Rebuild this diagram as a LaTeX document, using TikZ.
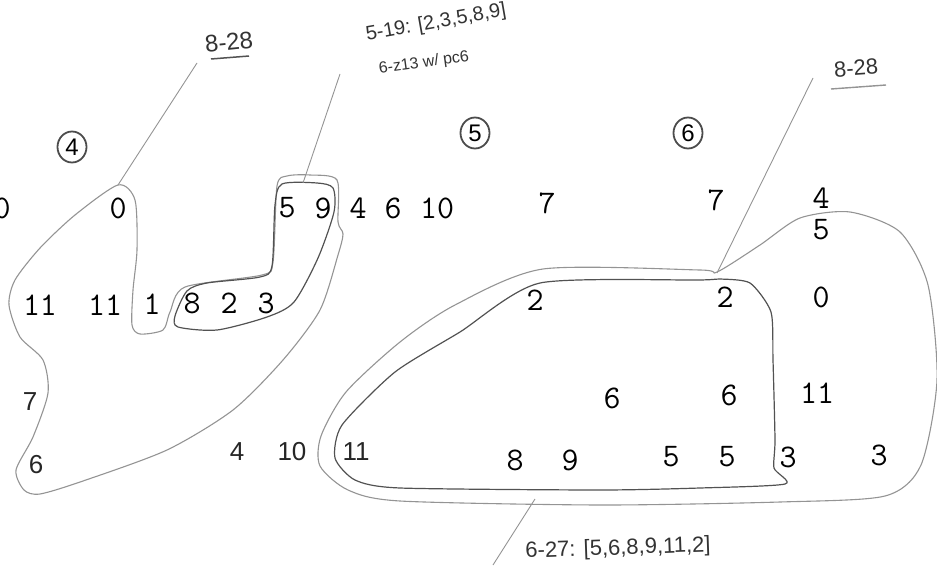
\documentclass[tikz,border=0pt]{standalone}
\usepackage{fontspec}
\newfontfamily\hand{Liberation Sans}
\usetikzlibrary{shapes.geometric}
\begin{document}
\begin{tikzpicture}[x=1pt,y=-1pt,
  typed/.style={font=\fontsize{33}{33}\selectfont\ttfamily, inner sep=0pt},
  handnum/.style={font=\fontsize{26}{26}\selectfont\hand, inner sep=0pt, text=black!85},
  pencil/.style={draw=black!42, line width=1.1pt},
  darkpencil/.style={draw=black!68, line width=1.2pt},
  note/.style={font=\hand, inner sep=0pt, text=black!80},
  circnum/.style={draw=black!70, line width=1.8pt, ellipse, minimum width=29pt, minimum height=31pt, inner sep=0pt, font=\fontsize{24}{24}\selectfont\hand}
]
\useasboundingbox (0,0) rectangle (937,578);

% circled group numbers
\node[circnum] (c4) at (72,147) {4};
\node[circnum] (c5) at (475,133) {5};
\node[circnum] (c6) at (688,133) {6};

% typed numbers, row 1
\node[typed] (r1a) at (2,208) {0};
\node[typed] (r1b) at (118,208) {0};
\node[typed] (r1c) at (287,208) {5};
\node[typed] (r1d) at (323,208) {9};
\node[typed] (r1e) at (358,208) {4};
\node[typed] (r1f) at (393,208) {6};
\node[typed] (r1g) at (437,208) {10};
\node[typed] (r1h) at (547,203) {7};
\node[typed] (r1i) at (716,200) {7};
\node[typed] (r1j) at (821,198) {4};
\node[typed] (r1k) at (821,230) {5};
% row 2
\node[typed] (r2a) at (40,305) {11};
\node[typed] (r2b) at (105,305) {11};
\node[typed] (r2c) at (152,304) {1};
\node[typed] (r2d) at (192,303) {8};
\node[typed] (r2e) at (229,303) {2};
\node[typed] (r2f) at (266,303) {3};
\node[typed] (r2g) at (535,300) {2};
\node[typed] (r2h) at (725,297) {2};
\node[typed] (r2i) at (821,297) {0};
% row 3
\node[typed] (r3a) at (612,398) {6};
\node[typed] (r3b) at (729,395) {6};
\node[typed] (r3c) at (817,393) {11};
% row 4
\node[typed] (r4a) at (515,460) {8};
\node[typed] (r4b) at (570,460) {9};
\node[typed] (r4c) at (671,457) {5};
\node[typed] (r4d) at (727,457) {5};
\node[typed] (r4e) at (788,457) {3};
\node[typed] (r4f) at (879,455) {3};

% handwritten numbers
\node[handnum] (h7) at (30,402) {7};
\node[handnum] (h6) at (36,465) {6};
\node[handnum] (h4) at (237,452) {4};
\node[handnum] (h10) at (292,452) {10};
\node[handnum] (h11) at (356,452) {11};

% annotations
\node[note, font=\fontsize{24}{24}\selectfont\hand, rotate=6] (n828a) at (229,42) {8-28};
\node[note, font=\fontsize{20}{20}\selectfont\hand, rotate=10] (n519) at (436,23) {5-19: [2,3,5,8,9]};
\node[note, font=\fontsize{16}{16}\selectfont\hand, rotate=8] (nz13) at (424,63) {6-z13 w/ pc6};
\node[note, font=\fontsize{22}{22}\selectfont\hand, rotate=4] (n828b) at (856,68) {8-28};
\node[note, font=\fontsize{22}{22}\selectfont\hand, rotate=2] (n627) at (618,549) {6-27: [5,6,8,9,11,2]};

% underlines
\coordinate (u1a) at (211,59); \coordinate (u1b) at (249,56);
\coordinate (u2a) at (831,89); \coordinate (u2b) at (886,85);
\draw[darkpencil, line width=1.5pt] (u1a) -- (u1b);
\draw[pencil, line width=1.4pt] (u2a) -- (u2b);

% left region (8-28)
\draw[pencil] plot[smooth cycle, tension=0.45] coordinates {
  (118,185) (75,215) (40,248) (15,280) (9,305) (20,337) (43,360) (48,393)
  (33,437) (16,470) (24,490) (40,494) (83,481) (167,450) (233,410)
  (283,360) (320,310) (338,255) (343,234) (338,222) (337,180) (310,175)
  (287,176) (277,186) (273,262) (262,275) (185,287) (170,312) (163,330)
  (140,334) (132,325) (133,290) (137,250) (135,200) };
% L-shaped region (5-19)
\draw[darkpencil] plot[smooth cycle, tension=0.45] coordinates {
  (282,184) (317,183) (333,188) (334,212) (318,258) (294,302) (267,317)
  (217,330) (178,327) (175,316) (187,291) (207,283) (260,277) (272,266) (275,205) };

% right outer region (8-28)
\draw[pencil] plot[smooth cycle, tension=0.45] coordinates {
  (717,272) (760,245) (800,218) (850,212) (900,232) (928,285) (937,380)
  (921,465) (885,496) (780,502) (600,505) (400,501) (348,490) (320,466)
  (321,436) (346,392) (400,342) (455,305) (543,269) (700,270) };
% right inner region (6-27)
\draw[darkpencil] plot[smooth cycle, tension=0.4] coordinates {
  (720,279) (750,283) (771,312) (773,360) (775,440) (774,468) (785,484)
  (700,488) (600,490) (400,488) (355,480) (335,458) (342,425) (395,372)
  (460,332) (540,283) (700,280) };

% leader lines
\coordinate (a1) at (118,185); \coordinate (b1) at (197,63);
\coordinate (a2) at (303,183); \coordinate (b2) at (340,74);
\coordinate (a3) at (717,273); \coordinate (b3) at (813,78);
\coordinate (a4) at (535,499); \coordinate (b4) at (493,565);
\draw[pencil, line width=0.9pt] (a1) -- (b1);
\draw[pencil, line width=0.9pt] (a2) -- (b2);
\draw[pencil, line width=0.9pt] (a3) -- (b3);
\draw[pencil, line width=0.9pt] (a4) -- (b4);
\end{tikzpicture}
\end{document}
